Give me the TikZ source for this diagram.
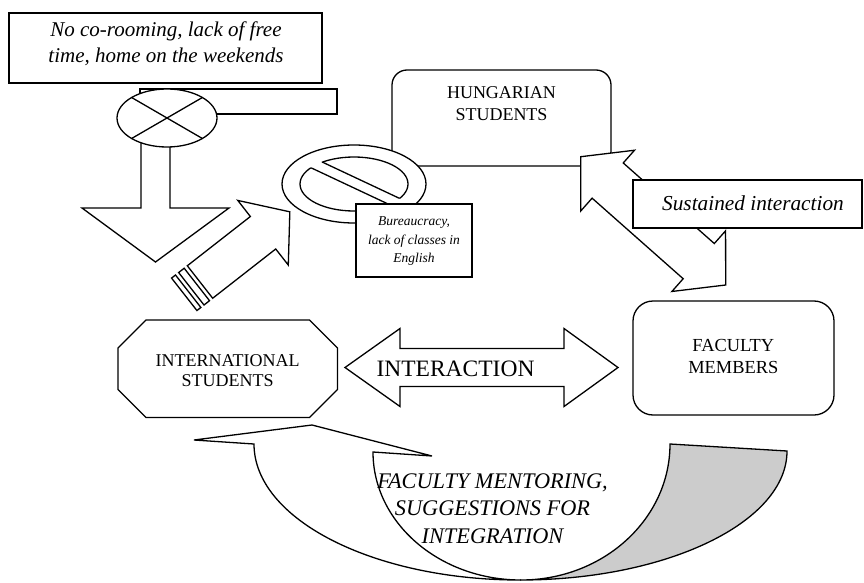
\documentclass[tikz,border=0pt]{standalone}
\usepackage{fontspec}
\setmainfont{Liberation Serif}
\definecolor{backgrey}{RGB}{204,204,204}
\begin{document}
\begin{tikzpicture}[x=1pt,y=-1pt,
  shp/.style={draw=black, fill=white, line width=1.3pt, line join=miter},
  lbl/.style={inner sep=0pt, align=center, anchor=base},
  boxnode/.style={shp, inner sep=0pt}]
\useasboundingbox[fill=white] (0,0) rectangle (864,583);

% ---- bottom curved arrow ----
\draw[shp, fill=backgrey] (670,444) -- (787,451)
  .. controls (787,522.2) and (666.9,580) .. (520,580)
  -- (521,580)
  .. controls (603.3,580) and (670,519.1) .. (670,444) -- cycle;
\draw[shp] (254,444) -- (194,440) -- (312,425) -- (432,456) -- (373,452)
  .. controls (373,522.7) and (439.3,580) .. (521,580)
  -- (520,580)
  .. controls (373.1,580) and (254,519.1) .. (254,444) -- cycle;
\node[lbl, font=\fontsize{22.3pt}{27.5pt}\selectfont\itshape] (mentor) at (492.5,543.3)
  {FACULTY MENTORING,\\SUGGESTIONS FOR\\INTEGRATION};

% ---- top text box ----
\node[boxnode, minimum width=313pt, minimum height=70pt] (topbox) at (165.5,48) {};
\node[lbl, font=\fontsize{21pt}{26pt}\selectfont\itshape] (toptxt) at (166,63)
  {No co-rooming, lack of free\\time, home on the weekends};

% ---- bar, down arrow, crossed ellipse ----
\node[boxnode, minimum width=197pt, minimum height=25pt] (bar) at (238.5,101.5) {};
\draw[shp] (141,130) -- (141,208) -- (82,208) -- (155.5,262) -- (229,208) -- (170,208) -- (170,130) -- cycle;
\draw[shp] (167,118) ellipse [x radius=50pt, y radius=29pt];
\coordinate (xs) at (167,118);
\draw[line width=1.3pt] (131.6,97.5) -- (202.4,138.5);
\draw[line width=1.3pt] (131.6,138.5) -- (202.4,97.5);

% ---- striped arrow ----
\begin{scope}[shift={(200,282)}, rotate=38]
  \draw[shp] (0,-20.6) -- (80,-20.6) -- (80,-41) -- (114,0) -- (80,41) -- (80,20.6) -- (0,20.6) -- cycle;
  \draw[shp] (-11,-20.6) rectangle (-4,20.6);
  \draw[shp] (-20,-20.6) rectangle (-15,20.6);
\end{scope}

% ---- Hungarian students ----
\node[boxnode, rounded corners=15pt, minimum width=219pt, minimum height=96pt] (hung) at (501.5,118) {};
\node[lbl, font=\fontsize{18pt}{22.7pt}\selectfont] (hungtxt) at (501.5,121) {HUNGARIAN\\STUDENTS};

% ---- no-sign ring ----
\draw[shp] (354,184) ellipse [x radius=72pt, y radius=39pt];
\begin{scope}
  \clip (200,104.6) -- (500,245.6) -- (500,0) -- (200,0) -- cycle
        (200,115.6) -- (500,256.6) -- (500,400) -- (200,400) -- cycle;
  \draw[line width=1.3pt] (354,184) ellipse [x radius=54pt, y radius=27pt];
\end{scope}
\begin{scope}
  \clip (354,184) ellipse [x radius=54pt, y radius=27pt];
  \draw[line width=1.3pt] (200,104.6) -- (500,245.6);
  \draw[line width=1.3pt] (200,115.6) -- (500,256.6);
\end{scope}

% ---- bureaucracy box ----
\node[boxnode, minimum width=116pt, minimum height=73pt] (bur) at (414,240.5) {};
\node[lbl, font=\fontsize{13.5pt}{18.3pt}\selectfont\itshape] (burtxt) at (414,262.3)
  {Bureaucracy,\\lack of classes in\\English};

% ---- sustained interaction double arrow ----
\begin{scope}[shift={(653.2,220.85)}, rotate=-41.5]
  \draw[shp] (-96.8,0) -- (-60.8,-40.5) -- (-60.8,-23.5) -- (60.8,-23.5) -- (60.8,-40.5)
    -- (96.8,0) -- (60.8,40.5) -- (60.8,23.5) -- (-60.8,23.5) -- (-60.8,40.5) -- cycle;
\end{scope}
\node[boxnode, minimum width=229pt, minimum height=48pt] (sus) at (747.5,204) {};
\node[lbl, font=\fontsize{21.3pt}{25pt}\selectfont\itshape] (sustxt) at (753,210) {Sustained interaction};

% ---- faculty members ----
\node[boxnode, rounded corners=20pt, minimum width=201pt, minimum height=114pt] (fac) at (733.5,358) {};
\node[lbl, font=\fontsize{18.4pt}{21.6pt}\selectfont] (factxt) at (733.3,373.3) {FACULTY\\MEMBERS};

% ---- international students ----
\draw[shp] (146,320) -- (309.5,320) -- (337.5,348) -- (337.5,389.5) -- (309.5,417.5)
  -- (146,417.5) -- (118,389.5) -- (118,348) -- cycle;
\node[lbl, font=\fontsize{18pt}{20pt}\selectfont] (intl) at (227.7,386) {INTERNATIONAL\\STUDENTS};

% ---- interaction arrow ----
\draw[shp] (345,367.5) -- (400,328.5) -- (400,348.5) -- (564,348.5) -- (564,328.5) -- (618,367.5)
  -- (564,406.5) -- (564,386.5) -- (400,386.5) -- (400,406.5) -- cycle;
\node[lbl, font=\fontsize{23.5pt}{28pt}\selectfont] (inter) at (455.5,376) {INTERACTION};
\end{tikzpicture}
\end{document}
